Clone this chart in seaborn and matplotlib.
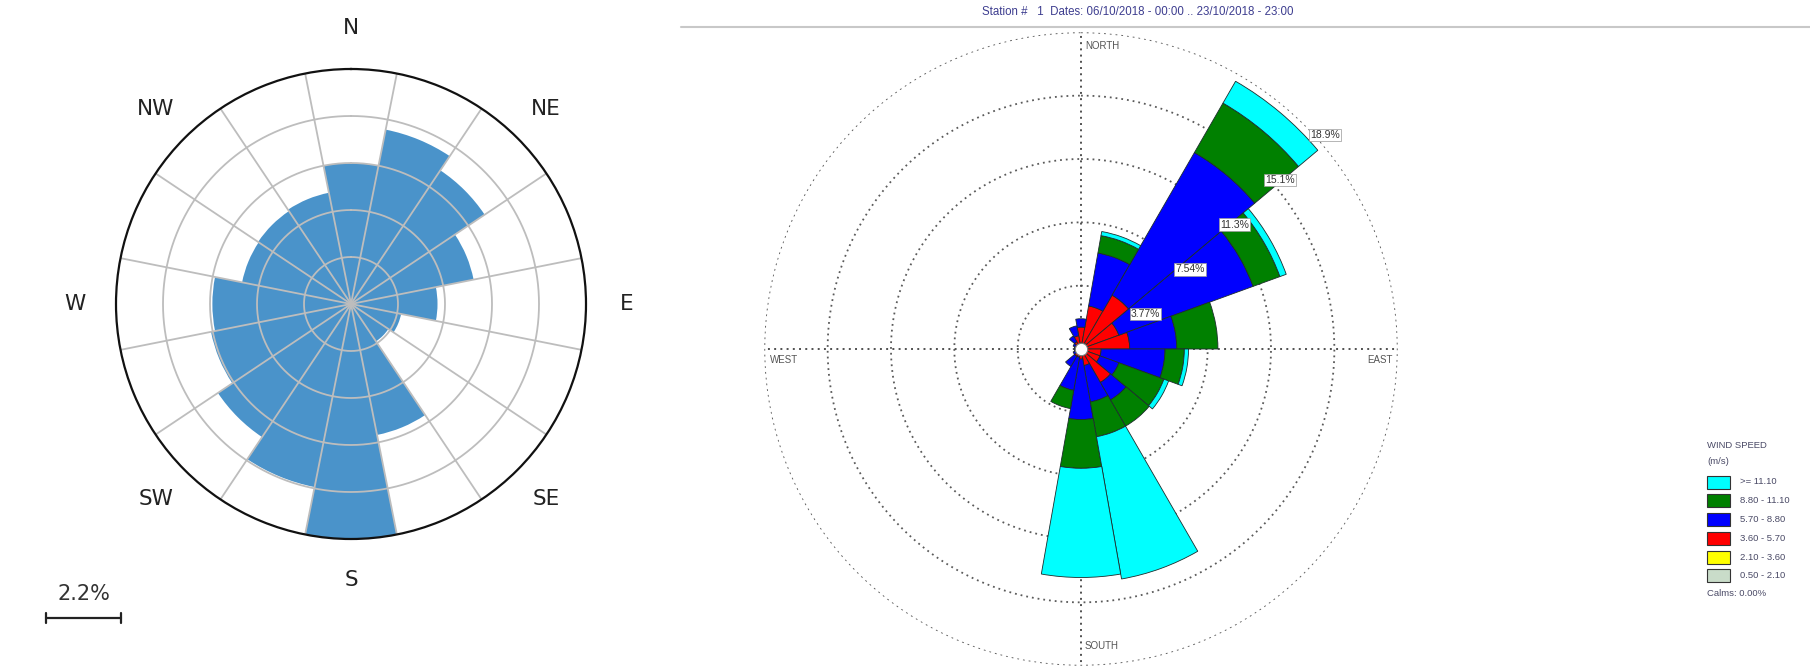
import numpy as np
import matplotlib
matplotlib.use("Agg")
import matplotlib.pyplot as plt
from matplotlib.lines import Line2D
from matplotlib.patches import Rectangle
import seaborn as sns

# ---------------- data ----------------
# Left rose: frequency (%) for 16 compass sectors, clockwise from N
left_dirs = ["N", "NNE", "NE", "ENE", "E", "ESE", "SE", "SSE",
             "S", "SSW", "SW", "WSW", "W", "WNW", "NW", "NNW"]
left_freq = [4.14, 5.22, 4.72, 3.67, 2.54, 1.50, 1.32, 3.92,
             6.90, 5.48, 4.70, 4.19, 4.07, 3.26, 3.28, 3.33]
left_compass = ["N", "NE", "E", "SE", "S", "SW", "W", "NW"]
scale_value = 2.2
scale_label = "2.2%"

# Right rose: 18 sectors of 20 degrees, frequency (%) per wind-speed class
right_dirs_deg = [0, 20, 40, 60, 80, 100, 120, 140, 160,
                  180, 200, 220, 240, 260, 280, 300, 320, 340]
freq_050_210 = [0.20, 0.20, 0.20, 0.20, 0.20, 0.20, 0.20, 0.20, 0.15,
                0.15, 0.15, 0.10, 0.10, 0.10, 0.10, 0.10, 0.10, 0.15]
freq_210_360 = [0.15, 0.15, 0.20, 0.15, 0.20, 0.10, 0.10, 0.10, 0.10,
                0.10, 0.10, 0.10, 0.05, 0.05, 0.05, 0.05, 0.10, 0.10]
freq_360_570 = [0.95, 2.25, 3.30, 2.05, 2.50, 0.90, 0.90, 2.00, 0.75,
                0.35, 0.25, 0.30, 0.20, 0.15, 0.15, 0.20, 0.30, 0.55]
freq_570_880 = [0.50, 3.20, 9.80, 8.50, 2.80, 3.80, 1.20, 1.20, 2.20,
                3.60, 2.00, 0.70, 0.15, 0.10, 0.10, 0.15, 0.40, 0.60]
freq_880_1110 = [0.00, 1.05, 3.40, 1.70, 2.45, 1.15, 2.85, 1.80, 2.10,
                 2.90, 1.10, 0.00, 0.00, 0.00, 0.00, 0.00, 0.00, 0.00]
freq_ge_1110 = [0.00, 0.25, 1.50, 0.40, 0.00, 0.25, 0.30, 0.00, 8.60,
                6.50, 0.00, 0.00, 0.00, 0.00, 0.00, 0.00, 0.00, 0.00]
speed_labels = ["0.50 - 2.10", "2.10 - 3.60", "3.60 - 5.70",
                "5.70 - 8.80", "8.80 - 11.10", ">= 11.10"]
ring_values = [3.77, 7.54, 11.31, 15.08, 18.85]
ring_labels = ["3.77%", "7.54%", "11.3%", "15.1%", "18.9%"]
calms_label = "Calms: 0.00%"
title_text = "Station #   1  Dates: 06/10/2018 - 00:00 .. 23/10/2018 - 23:00"

# ---------------- style ----------------
sns.set_theme(style="white")
plt.rcParams["font.family"] = ["DejaVu Sans"]

W, H = 1810, 666
fig = plt.figure(figsize=(W / 100, H / 100), dpi=100)
fig.patch.set_facecolor("white")


def fx(x):
    return x / W


def fy(y):
    return 1 - y / H


rose_blue = "#4a93ca"
grid_gray = "#bdbdbd"

# ---------------- left rose ----------------
cxL, cyL, rL = 351, 304, 235
axL = fig.add_axes([fx(cxL - rL), fy(cyL + rL), 2 * rL / W, 2 * rL / H],
                   projection="polar")
axL.set_theta_zero_location("N")
axL.set_theta_direction(-1)
thetaL = np.deg2rad(np.arange(len(left_freq)) * 22.5)
widthL = np.deg2rad(22.5)
axL.bar(thetaL, left_freq, width=widthL, color=rose_blue,
        edgecolor="none", zorder=2)
rmaxL = max(left_freq)
axL.set_ylim(0, rmaxL)
axL.grid(False)
axL.set_xticks([])
axL.set_yticks([])
tt = np.linspace(0, 2 * np.pi, 721)
for k in range(1, 5):
    axL.plot(tt, np.full_like(tt, rmaxL * k / 5), color=grid_gray,
             lw=1.3, zorder=3)
for edge in thetaL + widthL / 2:
    axL.plot([edge, edge], [0, rmaxL], color=grid_gray, lw=1.3, zorder=3)
axL.spines["polar"].set_color("#111111")
axL.spines["polar"].set_linewidth(1.6)
axL.spines["polar"].set_zorder(4)

label_r = rmaxL * 276 / rL
for i, name in enumerate(left_compass):
    axL.text(np.deg2rad(45 * i), label_r, name, ha="center", va="center",
             fontsize=15.5, color="#222222")

# scale bar, length taken from the radial scale of the left rose
px_per_unit = rL / rmaxL
bar_len = scale_value * px_per_unit
x0, ybar = 46, 618
fig.add_artist(Line2D([fx(x0), fx(x0 + bar_len)], [fy(ybar), fy(ybar)],
                      color="#222222", lw=1.6, transform=fig.transFigure))
for xe in (x0, x0 + bar_len):
    fig.add_artist(Line2D([fx(xe), fx(xe)], [fy(ybar - 5), fy(ybar + 5)],
                          color="#222222", lw=1.6, transform=fig.transFigure))
fig.text(fx(x0 + bar_len / 2), fy(594), scale_label, ha="center", va="center",
         fontsize=15, color="#333333")

# ---------------- right rose ----------------
cxR, cyR, rR = 1081, 349, 316.7
axR = fig.add_axes([fx(cxR - rR), fy(cyR + rR), 2 * rR / W, 2 * rR / H],
                   projection="polar")
axR.set_theta_zero_location("N")
axR.set_theta_direction(-1)
rmaxR = ring_values[-1]
axR.set_ylim(0, rmaxR)
axR.grid(False)
axR.set_xticks([])
axR.set_yticks([])
axR.spines["polar"].set_visible(False)
axR.patch.set_alpha(0)

dot = (0, (1.0, 2.2))
for v in ring_values:
    axR.plot(tt, np.full_like(tt, v), color="#5a5a5a", lw=1.3, ls=dot, zorder=1)
for a in (0, 90, 180, 270):
    axR.plot([np.deg2rad(a)] * 2, [0, rmaxR], color="#505050", lw=1.4,
             ls=dot, zorder=1)

speed_colors = ["#c9dcc9", "#ffff00", "#ff0000", "#0000ff", "#008000", "#00ffff"]
layers = [freq_050_210, freq_210_360, freq_360_570,
          freq_570_880, freq_880_1110, freq_ge_1110]
thetaR = np.deg2rad(right_dirs_deg)
widthR = np.deg2rad(20)
bottom = np.zeros(len(thetaR))
for vals, col in zip(layers, speed_colors):
    vals = np.asarray(vals, dtype=float)
    m = vals > 0
    axR.bar(thetaR[m], vals[m], width=widthR, bottom=bottom[m], color=col,
            edgecolor="#1c2c2c", linewidth=0.6, zorder=3)
    bottom += vals

axR.scatter([0], [0], s=80, c="white", edgecolors="#777777",
            linewidths=0.8, zorder=7)

for v, lab in zip(ring_values, ring_labels):
    axR.annotate(lab, xy=(np.deg2rad(45), v), xytext=(5, -5),
                 textcoords="offset pixels", ha="left", va="top",
                 fontsize=7.5, color="#333333", family="Liberation Sans",
                 bbox=dict(boxstyle="square,pad=0.12", fc="white",
                           ec="#999999", lw=0.5), zorder=8)

txt_kw = dict(fontsize=7, color="#555555", family="Liberation Sans",
              va="center")
fig.text(fx(1085), fy(46), "NORTH", ha="left", **txt_kw)
fig.text(fx(1085), fy(646), "SOUTH", ha="left", **txt_kw)
fig.text(fx(770), fy(360), "WEST", ha="left", **txt_kw)
fig.text(fx(1393), fy(360), "EAST", ha="right", **txt_kw)

# header
fig.text(fx(1138), fy(12), title_text, ha="center", va="center",
         fontsize=8.3, color="#3d3d8f", family="Liberation Sans")
fig.add_artist(Line2D([fx(681), 1.0], [fy(27), fy(27)], color="#c8c8c8",
                      lw=1.5, transform=fig.transFigure))

# legend
leg_kw = dict(fontsize=6.8, color="#4a4a66", family="Liberation Sans",
              va="center", ha="left")
fig.text(fx(1707), fy(445), "WIND SPEED", **leg_kw)
fig.text(fx(1707), fy(461), "(m/s)", **leg_kw)
row_y = 482
for lab, col in zip(speed_labels[::-1], speed_colors[::-1]):
    fig.add_artist(Rectangle((fx(1707), fy(row_y + 6.5)), 23 / W, 13 / H,
                             facecolor=col, edgecolor="#333333", lw=0.8,
                             transform=fig.transFigure))
    fig.text(fx(1740), fy(row_y), lab, **leg_kw)
    row_y += 18.8
fig.text(fx(1707), fy(row_y - 1), calms_label, **leg_kw)

fig.savefig("out.png", dpi=100, facecolor="white")
